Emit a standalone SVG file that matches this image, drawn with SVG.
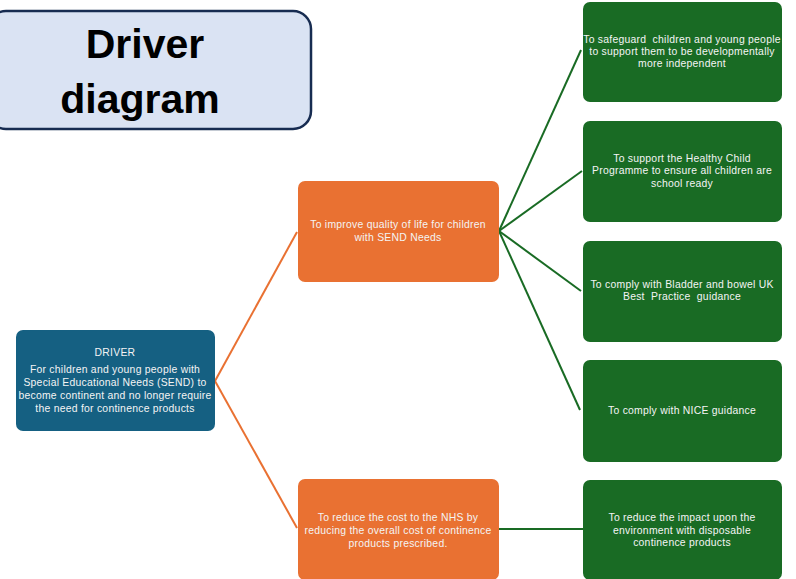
<svg xmlns="http://www.w3.org/2000/svg" width="796" height="579" viewBox="0 0 796 579">
<style>
.t{font-family:"Liberation Sans",Arial,sans-serif;font-size:10.4px;letter-spacing:0.25px;fill:#f4f4f4;text-anchor:middle}
.title{font-family:"Liberation Sans",Arial,sans-serif;font-size:41px;font-weight:bold;fill:#000;text-anchor:middle}
.or{fill:#e97132}
.gr{fill:#196b24}
.oc{stroke:#e97132;stroke-width:2;fill:none}
.gc{stroke:#196b24;stroke-width:2;fill:none}
</style>
<rect width="796" height="579" fill="#fff"/>
<g id="title">
<rect x="-12" y="11" width="323" height="118" rx="18" fill="#dae3f3" stroke="#172c51" stroke-width="2.5"/>
<text class="title" x="145" y="58">Driver</text>
<text class="title" x="140" y="113">diagram</text>
</g>
<g id="connectors">
<line class="oc" x1="215" y1="381" x2="297" y2="232"/>
<line class="oc" x1="215" y1="381" x2="297" y2="528"/>
<line class="gc" x1="499" y1="231" x2="581" y2="50"/>
<line class="gc" x1="499" y1="231" x2="582" y2="171"/>
<line class="gc" x1="499" y1="231" x2="581" y2="291"/>
<line class="gc" x1="499" y1="231" x2="580" y2="410"/>
<line class="gc" x1="499" y1="529" x2="583" y2="529"/>
</g>
<g id="driver">
<rect x="16" y="330" width="199" height="101" rx="7" fill="#156082"/>
<text class="t" x="115" y="356">DRIVER</text>
<text class="t" x="115" y="373">For children and young people with</text>
<text class="t" x="115" y="386">Special Educational Needs (SEND) to</text>
<text class="t" x="115" y="399">become continent and no longer require</text>
<text class="t" x="115" y="412">the need for continence products</text>
</g>
<g id="primary1">
<rect class="or" x="298" y="181" width="201" height="101" rx="7"/>
<text class="t" x="398" y="228">To improve quality of life for children</text>
<text class="t" x="398" y="241">with SEND Needs</text>
</g>
<g id="primary2">
<rect class="or" x="298" y="479" width="201" height="101" rx="7"/>
<text class="t" x="398" y="521">To reduce the cost to the NHS by</text>
<text class="t" x="398" y="534">reducing the overall cost of continence</text>
<text class="t" x="398" y="547">products prescribed.</text>
</g>
<g id="secondary1">
<rect class="gr" x="583" y="2" width="199" height="100" rx="7"/>
<text class="t" x="682" y="43" xml:space="preserve">To safeguard  children and young people</text>
<text class="t" x="682" y="55">to support them to be developmentally</text>
<text class="t" x="682" y="67">more independent</text>
</g>
<g id="secondary2">
<rect class="gr" x="583" y="121" width="199" height="101" rx="7"/>
<text class="t" x="682" y="162">To support the Healthy Child</text>
<text class="t" x="682" y="174">Programme to ensure all children are</text>
<text class="t" x="682" y="187">school ready</text>
</g>
<g id="secondary3">
<rect class="gr" x="583" y="241" width="199" height="101" rx="7"/>
<text class="t" x="682" y="288">To comply with Bladder and bowel UK</text>
<text class="t" x="682" y="300" xml:space="preserve">Best  Practice  guidance</text>
</g>
<g id="secondary4">
<rect class="gr" x="583" y="360" width="199" height="102" rx="7"/>
<text class="t" x="682" y="414">To comply with NICE guidance</text>
</g>
<g id="secondary5">
<rect class="gr" x="583" y="480" width="199" height="100" rx="7"/>
<text class="t" x="682" y="521">To reduce the impact upon the</text>
<text class="t" x="682" y="534">environment with disposable</text>
<text class="t" x="682" y="546">continence products</text>
</g>
</svg>
